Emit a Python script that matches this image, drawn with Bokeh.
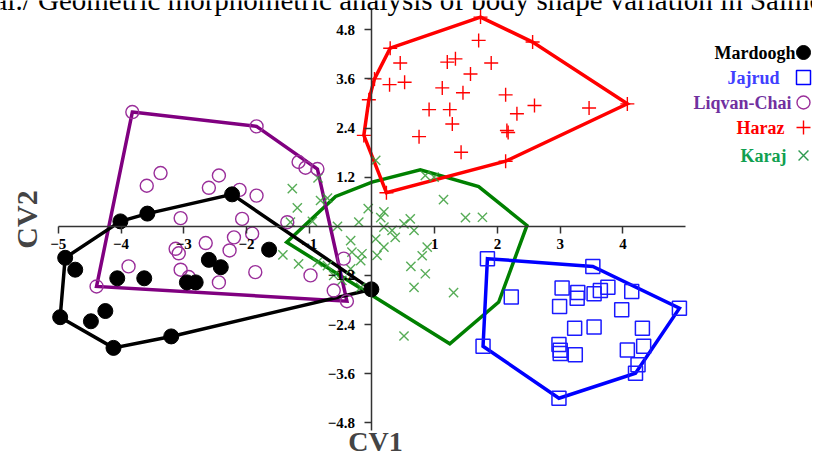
from bokeh.plotting import figure
from bokeh.models import Range1d, FixedTicker, Label
from bokeh.embed import file_html
from bokeh.resources import INLINE

# ---------------- data ----------------
mard_x = [-2.23, -3.58, -4.01, -4.89, -4.73, -4.97, -4.48, -4.25, -4.12, -3.20,
          -0.01, -1.64, -2.60, -2.41, -4.06, -3.63, -2.95, -2.81]
mard_y = [0.78, 0.31, 0.12, -0.77, -1.06, -2.22, -2.32, -2.07, -2.97, -2.69,
          -1.54, -0.57, -0.82, -1.00, -1.27, -1.27, -1.37, -1.37]
mard_hull_x = [-2.23, -0.01, -3.20, -4.12, -4.97, -4.89, -4.01, -3.58]
mard_hull_y = [0.78, -1.54, -2.69, -2.97, -2.22, -0.77, 0.12, 0.31]

jaj_x = [1.84, 3.52, 4.90, 4.20, 2.98, 1.77, 2.22, 3.03, 3.28, 3.27, 2.99, 3.54, 3.64,
         3.76, 4.14, 3.98, 3.23, 3.54, 4.31, 2.98, 3.00, 3.00, 3.24, 4.07, 4.33, 4.24]
jaj_y = [-0.79, -0.98, -2.00, -3.59, -4.20, -2.93, -1.73, -1.51, -1.62, -1.76, -1.96, -1.65, -1.57,
         -1.49, -1.59, -2.04, -2.49, -2.46, -2.49, -2.89, -3.03, -3.11, -3.14, -3.02, -2.93, -3.38]
jaj_hull_x = [1.84, 3.52, 4.90, 4.20, 2.98, 1.77]
jaj_hull_y = [-0.79, -0.98, -2.00, -3.59, -4.20, -2.93]

liq_x = [-3.82, -1.84, -1.17, -1.06, -0.87, -3.37, -3.59, -2.44, -2.60, -2.11, -1.84, -1.35,
         -1.91, -2.07, -1.86, -0.98, -0.45, -0.61, -4.39, -0.40, -3.05, -2.65, -3.13, -3.08,
         -2.20, -2.27, -3.88, -3.05, -2.92, -2.44]
liq_y = [2.79, 2.44, 1.57, 1.43, 1.40, 1.30, 0.99, 1.24, 0.94, 0.89, 0.75, 0.10,
         -0.18, 0.18, -1.12, -1.20, -0.79, -1.57, -1.47, -1.83, 0.20, -0.41, -0.55, -0.66,
         -0.27, -0.59, -0.98, -1.06, -1.24, -1.37]
liq_hull_x = [-3.82, -1.84, -0.87, -0.40, -4.39]
liq_hull_y = [2.79, 2.44, 1.40, -1.83, -1.47]

har_x = [1.73, 2.56, 4.07, 2.13, 0.23, -0.13, -0.05, 0.04, 0.29, 0.45, 0.28, 0.52, 1.20, 1.33,
         1.70, 1.90, 1.57, 1.12, 1.45, 2.13, 0.91, 1.24, 1.28, 2.31, 2.59, 3.46, 2.15, 2.17,
         0.75, 1.42]
har_y = [5.11, 4.50, 2.99, 1.59, 0.82, 2.22, 3.09, 3.60, 4.35, 3.99, 3.46, 3.52, 4.01, 4.09,
         4.54, 3.99, 3.72, 3.38, 3.26, 3.21, 2.85, 2.85, 2.50, 2.75, 2.95, 2.89, 2.34, 2.29,
         2.19, 1.81]
har_hull_x = [1.73, 2.56, 4.07, 2.13, 0.23, -0.13, -0.05, 0.04, 0.29]
har_hull_y = [5.11, 4.50, 2.99, 1.59, 0.82, 2.22, 3.09, 3.60, 4.35]

kar_x = [0.06, -1.27, -0.86, -0.71, -1.19, -1.30, -0.95, -0.55, -0.21, -0.06, 0.19, 0.14,
         0.61, 0.85, 0.99, 1.14, 1.49, 1.76, 0.37, 0.67, 0.06, 0.88, -0.16, 0.08, 0.80, 0.62,
         0.85, 0.67, 1.30, 0.51, -1.42, -1.17, -0.87, -0.71, -0.32, -0.18, -0.61, -0.48,
         -0.18, 0.32, -0.34, 0.19, 0.51, -0.34, 0.19, -0.82]
kar_y = [1.61, 0.92, 1.18, 0.69, 0.45, 0.10, 0.12, 0.00, 0.10, 0.43, 0.35, 0.21,
         0.18, 1.24, 1.20, 0.65, 0.21, 0.22, -0.27, -0.10, -0.31, -0.51, -0.67, -0.71, -0.72, -0.98,
         -1.16, -1.49, -1.62, -2.68, -0.70, -0.92, -0.88, -0.96, -0.63, -0.84, -1.20, -1.32,
         -1.49, -0.10, -0.35, -0.51, 0.06, -1.04, -0.02, 0.63]
kar_hull_x = [-1.36, -0.58, 0.00, 0.77, 1.70, 2.47, 2.02, 1.24]
kar_hull_y = [-0.39, 0.73, 1.08, 1.38, 0.97, 0.02, -1.85, -2.87]

x_ticks = [-5, -4, -3, -2, -1, 1, 2, 3, 4]
y_ticks = [-4.8, -3.6, -2.4, -1.2, 1.2, 2.4, 3.6, 4.8]

legend_names = ["Mardoogh", "Jajrud", "Liqvan-Chai", "Haraz", "Karaj"]
title_text = "al./ Geometric morphometric analysis of body shape variation in Salmo"

# ---------------- figure ----------------
W, H = 812, 456
SERIF = "Liberation Serif"

p = figure(width=W, height=H, output_backend="svg", toolbar_location=None,
           x_range=Range1d(-5.921, 7.021), y_range=Range1d(-5.623, 5.515),
           min_border=0, outline_line_color=None, background_fill_color="white")
p.grid.visible = False
p.extra_x_ranges = {"px": Range1d(0, W)}
p.extra_y_ranges = {"py": Range1d(H, 0)}

xa = p.xaxis[0]
ya = p.yaxis[0]
xa.fixed_location = 0
ya.fixed_location = 0
xa.ticker = FixedTicker(ticks=x_ticks)
ya.ticker = FixedTicker(ticks=y_ticks)
xa.bounds = (-5, 5)
ya.bounds = (-4.99, 5.32)
for ax in (xa, ya):
    ax.axis_line_color = "#333333"
    ax.axis_line_width = 1.5
    ax.major_tick_line_color = "#333333"
    ax.major_tick_line_width = 1.5
    ax.major_tick_in = 0
    ax.major_tick_out = 7
    ax.minor_tick_line_color = None
    ax.major_label_text_font = SERIF
    ax.major_label_text_font_style = "bold"
    ax.major_label_text_font_size = "15px"
    ax.major_label_text_color = "black"
xa.major_label_standoff = 6
ya.major_label_standoff = 10

# hulls
hull_specs = [
    (kar_hull_x, kar_hull_y, "#008000"),
    (liq_hull_x, liq_hull_y, "#800080"),
    (har_hull_x, har_hull_y, "#ff0000"),
    (jaj_hull_x, jaj_hull_y, "#0000ff"),
    (mard_hull_x, mard_hull_y, "#000000"),
]
for hx_, hy_, col in hull_specs:
    p.patch(hx_, hy_, fill_alpha=0, line_color=col, line_width=3.5, line_join="miter")

# markers
p.scatter(kar_x, kar_y, marker="x", size=13, line_color="#3a9e3a", line_width=1.4, line_alpha=0.85)
p.scatter(liq_x, liq_y, marker="circle", size=13, fill_alpha=0, line_color="#9a2f9a", line_width=1.4)
p.scatter(har_x, har_y, marker="cross", size=14, line_color="#ff0000", line_width=1.4)
p.scatter(jaj_x, jaj_y, marker="square", size=14, fill_alpha=0, line_color="#1a1aff", line_width=1.5)
p.scatter(mard_x, mard_y, marker="circle", size=15, fill_color="black", line_color="black")

# legend (text right-aligned, key to the right), positioned in pixel space
leg_text_right = [795, 779, 791, 784, 786]
leg_rows = [52, 77, 102, 127, 155]
leg_key_x = 803
leg_text_colors = ["#000000", "#4040ff", "#7030a0", "#ff0000", "#10a050"]
for name, xr, yr, tc in zip(legend_names, leg_text_right, leg_rows, leg_text_colors):
    p.add_layout(Label(x=xr, y=H - yr, x_units="screen", y_units="screen", text=name,
                       text_font=SERIF, text_font_style="bold", text_font_size="18px",
                       text_color=tc, text_align="right", text_baseline="middle"))
p.scatter([leg_key_x], [leg_rows[0]], x_range_name="px", y_range_name="py",
          marker="circle", size=14, fill_color="black", line_color="black")
p.scatter([leg_key_x], [leg_rows[1]], x_range_name="px", y_range_name="py",
          marker="square", size=14, fill_alpha=0, line_color="#0000ff", line_width=1.5)
p.scatter([leg_key_x], [leg_rows[2]], x_range_name="px", y_range_name="py",
          marker="circle", size=13, fill_alpha=0, line_color="#9a2f9a", line_width=1.4)
p.scatter([leg_key_x], [leg_rows[3]], x_range_name="px", y_range_name="py",
          marker="cross", size=14, line_color="#ff0000", line_width=1.4)
p.scatter([leg_key_x], [leg_rows[4]], x_range_name="px", y_range_name="py",
          marker="x", size=14, line_color="#2f9a50", line_width=1.4)

# axis titles
p.add_layout(Label(x=375, y=0, x_units="screen", y_units="screen", text="CV1",
                   text_font=SERIF, text_font_style="bold", text_font_size="28px",
                   text_align="center", text_baseline="bottom"))
p.add_layout(Label(x=26, y=H - 219, x_units="screen", y_units="screen", text="CV2",
                   angle=1.5708, text_font=SERIF, text_font_style="bold", text_font_size="30px",
                   text_align="center", text_baseline="middle"))

# clipped caption line at the very top (as in the source image)
p.add_layout(Label(x=-6, y=H + 1, x_units="screen", y_units="screen", text=title_text,
                   text_font=SERIF, text_font_size="29px", text_baseline="alphabetic",
                   text_color="black"))

open("out.html", "w").write(file_html(p, INLINE))
